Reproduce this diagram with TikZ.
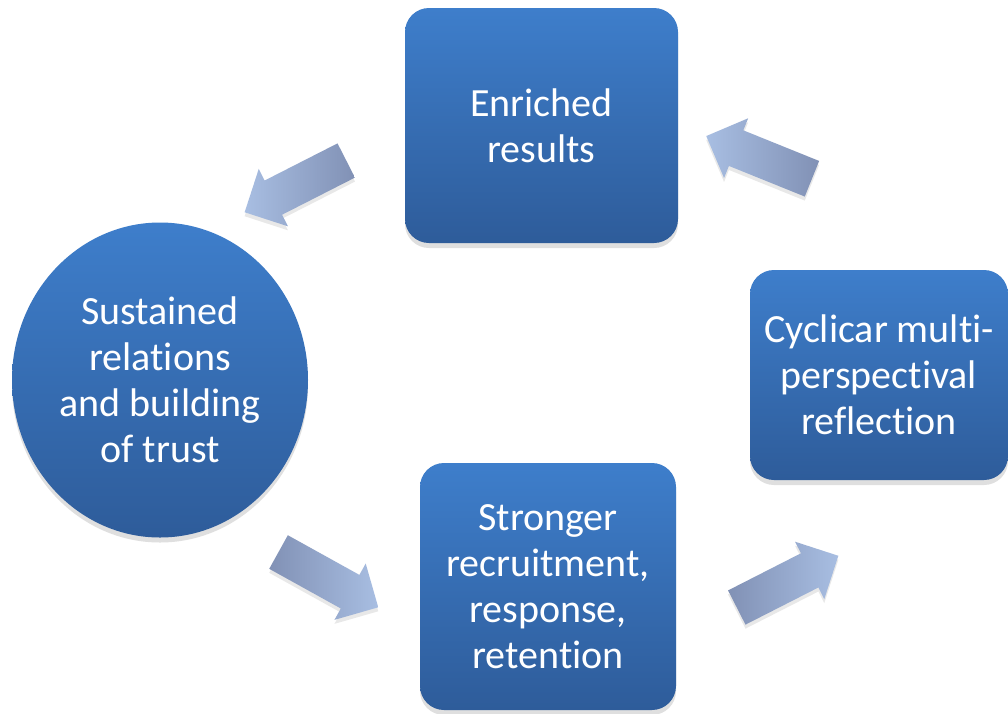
\documentclass[tikz,border=0pt]{standalone}
\usepackage{fontspec}
\setmainfont{Carlito}[RawFeature={-liga;-clig;-dlig;-calt}]
\usetikzlibrary{shapes.geometric,shapes.arrows,shadows}
\definecolor{boxtop}{HTML}{3E7ECB}
\definecolor{boxbot}{HTML}{2E5C9A}
\definecolor{arrdark}{HTML}{8191B5}
\definecolor{arrlight}{HTML}{A8BEE2}
\tikzset{
  label text/.style={text=white, font=\fontsize{40}{46}\selectfont, align=center},
  bluebox/.style={label text, rounded corners=24pt, top color=boxtop, bottom color=boxbot,
    draw=none, drop shadow={shadow xshift=0pt, shadow yshift=-5pt, opacity=0.25}},
  blueoval/.style={label text, ellipse, top color=boxtop, bottom color=boxbot, draw=none,
    drop shadow={shadow xshift=0pt, shadow yshift=-5pt, opacity=0.25}},
  blockarrow/.style={single arrow, draw=none, inner xsep=0pt, inner ysep=19pt,
    single arrow head extend=13pt, minimum height=114pt,
    drop shadow={shadow xshift=0pt, shadow yshift=-4pt, opacity=0.18}},
  arrowR/.style={blockarrow, left color=arrdark, right color=arrlight},
  arrowL/.style={blockarrow, left color=arrlight, right color=arrdark}
}
\begin{document}
\begin{tikzpicture}[x=1pt,y=-1pt]
\useasboundingbox[fill=white] (0,0) rectangle (1008,713);
\node[bluebox, minimum width=273pt, minimum height=235pt] (enr) at (541.5,125.5) {Enriched\\results};
\node[bluebox, minimum width=256pt, minimum height=247pt] (str) at (548,586.5) {Stronger\\recruitment,\\response,\\retention};
\node[bluebox, minimum width=258pt, minimum height=210pt] (cyc) at (879,375) {Cyclicar multi-\\perspectival\\reflection};
\node[blueoval, minimum width=296pt, minimum height=315pt, inner sep=0pt] (sus) at (160,380) {Sustained\\relations\\and building\\of trust};
\node[arrowL, rotate=207] (a1) at (304,182) {};
\node[arrowL, rotate=158] (a2) at (768,161) {};
\node[arrowR, rotate=-29] (a3) at (320,575) {};
\node[arrowR, rotate=27] (a4) at (779,586) {};
\end{tikzpicture}
\end{document}
